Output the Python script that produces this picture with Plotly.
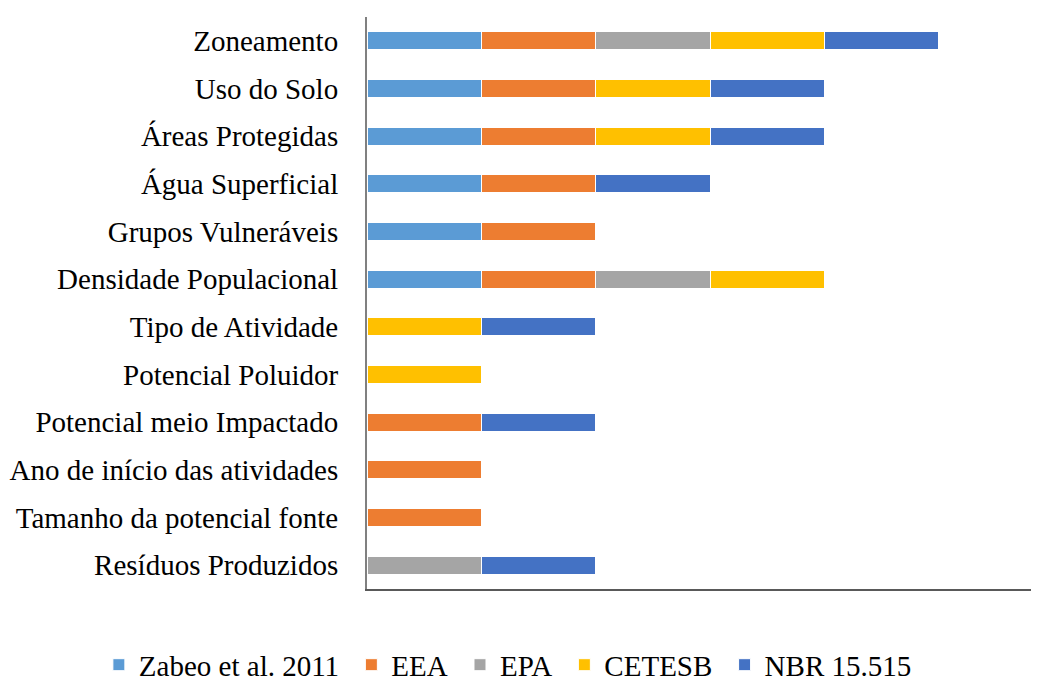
import plotly.graph_objects as go

categories = [
    "Zoneamento", "Uso do Solo", "Áreas Protegidas", "Água Superficial",
    "Grupos Vulneráveis", "Densidade Populacional", "Tipo de Atividade",
    "Potencial Poluidor", "Potencial meio Impactado",
    "Ano de início das atividades", "Tamanho da potencial fonte",
    "Resíduos Produzidos",
]
series_names = ["Zabeo et al. 2011", "EEA", "EPA", "CETESB", "NBR 15.515"]
zabeo = [1, 1, 1, 1, 1, 1, None, None, None, None, None, None]
eea = [1, 1, 1, 1, 1, 1, None, None, 1, 1, 1, None]
epa = [1, None, None, None, None, 1, None, None, None, None, None, 1]
cetesb = [1, 1, 1, None, None, 1, 1, 1, None, None, None, None]
nbr = [1, 1, 1, 1, None, None, 1, None, 1, None, None, 1]
colors = ["#5B9BD5", "#ED7D31", "#A5A5A5", "#FFC000", "#4472C4"]

fig = go.Figure()
for i, (name, vals, col) in enumerate(zip(series_names, [zabeo, eea, epa, cetesb, nbr], colors)):
    label = name + ("\u00a0" if i < len(series_names) - 1 else "")
    fig.add_trace(go.Bar(
        y=categories, x=vals, name=label, orientation="h",
        marker=dict(color=col, line=dict(color="white", width=1)),
    ))

font_family = "Liberation Serif, Times New Roman, serif"
fig.update_layout(
    barmode="stack",
    bargap=0.62,
    width=1031, height=672,
    margin=dict(l=359, r=0, t=9, b=91, autoexpand=False),
    paper_bgcolor="white", plot_bgcolor="white",
    font=dict(family=font_family, size=29, color="black"),
    showlegend=True,
    legend=dict(
        orientation="h", x=-0.399, xanchor="left",
        y=-0.088, yanchor="top", bgcolor="rgba(0,0,0,0)",
        font=dict(family=font_family, size=29, color="black"),
        itemwidth=30, traceorder="normal",
    ),
    xaxis=dict(
        range=[0, 5.875], showticklabels=False, showgrid=False, zeroline=False,
        showline=True, linecolor="#595959", linewidth=2, ticks="",
        automargin=False,
    ),
    yaxis=dict(
        autorange="reversed", showgrid=False, zeroline=False,
        showline=True, linecolor="#808080", linewidth=2, ticks="",
        ticklabelstandoff=21, automargin=False,
        tickfont=dict(family=font_family, size=29, color="black"),
    ),
)
fig.write_html("out.html")
